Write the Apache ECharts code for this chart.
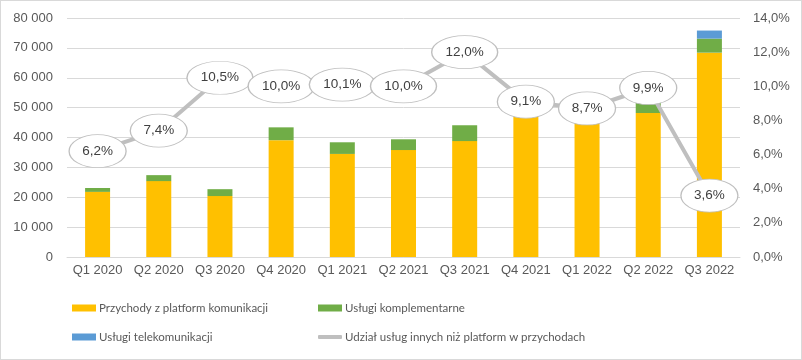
<!DOCTYPE html>
<html>
<head>
<meta charset="utf-8">
<script src="https://cdn.jsdelivr.net/npm/echarts@6/dist/echarts.min.js"></script>
<style>
html,body{margin:0;padding:0;background:#fff;}
#c{width:800px;height:358px;border:1px solid #d9d9d9;}
</style>
</head>
<body>
<div id="c"></div>
<script>
var categories = ['Q1 2020','Q2 2020','Q3 2020','Q4 2020','Q1 2021','Q2 2021','Q3 2021','Q4 2021','Q1 2022','Q2 2022','Q3 2022'];
var platformRevenue = [21800, 25400, 20400, 39100, 34500, 35800, 38800, 47000, 45500, 48200, 68400];
var complementaryServices = [1300, 2000, 2300, 4300, 3900, 3600, 5300, 4700, 4300, 5300, 4700];
var telecomServices = [0, 0, 0, 0, 0, 0, 0, 0, 0, 0, 2700];
var otherShare = [6.2, 7.4, 10.5, 10.0, 10.1, 10.0, 12.0, 9.1, 8.7, 9.9, 3.6];
var leftTicks = {min: 0, max: 80000, interval: 10000};
var rightTicks = {min: 0, max: 14, interval: 2};
var names = ['Przychody z platform komunikacji', 'Usługi komplementarne', 'Usługi telekomunikacji', 'Udział usług innych niż platform w przychodach'];

var FONT = '"Liberation Sans", Arial, sans-serif';
var LEGEND_FONT = 'Lato';
function pct(v){ return v.toFixed(1).replace('.', ',') + '%'; }
function thousands(v){ return String(v).replace(/\B(?=(\d{3})+(?!\d))/g, ' '); }

var chart = echarts.init(document.getElementById('c'), null, {renderer: 'canvas'});
var legendBase = {
  itemWidth: 24, itemHeight: 7, itemGap: 10, padding: 0,
  textStyle: {color: '#595959', fontSize: 11.5, fontFamily: LEGEND_FONT, padding: [0, 0, 0, -2]},
  selectedMode: false
};
function lg(name, left, top, extra){
  var o = Object.assign({}, legendBase, {left: left, top: top, data: [name]});
  return Object.assign(o, extra || {});
}
var option = {
  animation: false,
  textStyle: {fontFamily: FONT},
  grid: {left: 66, right: 61, top: 17, bottom: 102},
  legend: [
    lg(names[0], 71, 301, {icon: 'rect'}),
    lg(names[1], 317, 301, {icon: 'rect'}),
    lg(names[2], 71, 330, {icon: 'rect'}),
    lg(names[3], 317, 330, {data: [{name: names[3], icon: 'roundRect', itemStyle: {color: '#bfbfbf', borderWidth: 0}}], itemHeight: 4})
  ],
  xAxis: {
    type: 'category', data: categories,
    axisLine: {lineStyle: {color: '#d9d9d9'}},
    axisTick: {show: false},
    axisLabel: {color: '#595959', fontSize: 13, margin: 7, interval: 0, fontFamily: FONT}
  },
  yAxis: [
    {type: 'value', min: leftTicks.min, max: leftTicks.max, interval: leftTicks.interval,
     axisLabel: {color: '#595959', fontSize: 13, margin: 14, formatter: thousands, fontFamily: FONT},
     splitLine: {lineStyle: {color: '#d9d9d9'}},
     axisLine: {show: false}, axisTick: {show: false}},
    {type: 'value', min: rightTicks.min, max: rightTicks.max, interval: rightTicks.interval,
     axisLabel: {color: '#595959', fontSize: 13, margin: 13, formatter: function(v){ return pct(v); }, fontFamily: FONT},
     splitLine: {show: false}, axisLine: {show: false}, axisTick: {show: false}}
  ],
  series: [
    {name: names[0], type: 'bar', stack: 's', data: platformRevenue, barWidth: 25, itemStyle: {color: '#FFC000'}},
    {name: names[1], type: 'bar', stack: 's', data: complementaryServices, barWidth: 25, itemStyle: {color: '#70AD47'}},
    {name: names[2], type: 'bar', stack: 's', data: telecomServices, barWidth: 25, itemStyle: {color: '#5B9BD5'}},
    {name: names[3], type: 'line', yAxisIndex: 1, data: otherShare,
     lineStyle: {color: '#bfbfbf', width: 4},
     symbol: 'path://M0 50A50 50 0 1 1 100 50A50 50 0 1 1 0 50Z',
     symbolSize: function(v){ return pct(v).length > 4 ? [66, 33] : [57, 33]; },
     itemStyle: {color: '#ffffff', borderColor: '#bfbfbf', borderWidth: 1},
     label: {show: true, position: 'inside', color: '#404040', fontSize: 13.5, fontFamily: FONT,
             formatter: function(p){ return pct(p.value); }},
     emphasis: {disabled: true}, z: 5}
  ]
};
chart.setOption(option);
</script>
</body>
</html>
